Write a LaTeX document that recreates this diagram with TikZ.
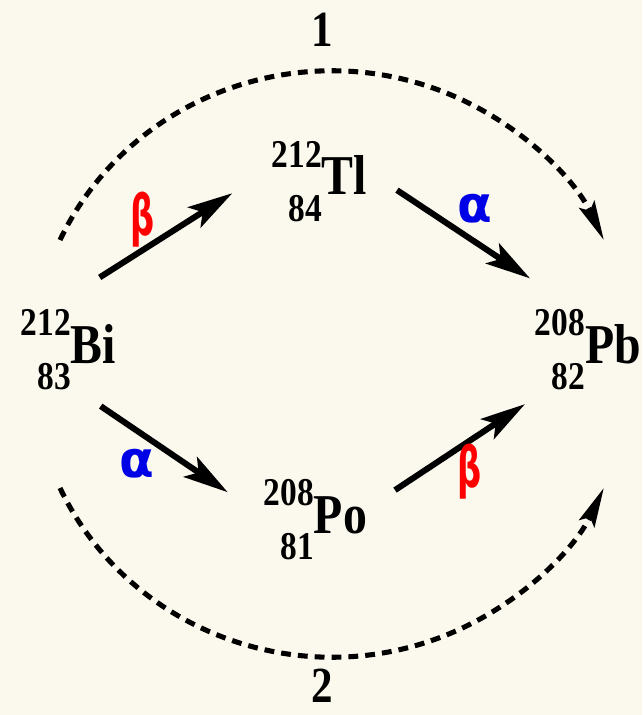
\documentclass[tikz,border=0pt]{standalone}
\usepackage{fontspec}
\setmainfont{Liberation Serif}
\newfontfamily\elfont{Liberation Serif}[FakeStretch=0.85]
\newfontfamily\alphafont{DejaVu Sans}
\newfontfamily\betafont{DejaVu Sans}[FakeStretch=0.6]
\usetikzlibrary{arrows.meta, positioning}
\definecolor{paper}{RGB}{251,249,238}
\definecolor{alphablue}{RGB}{0,0,230}
\definecolor{betared}{RGB}{255,0,0}
\newcommand{\nuc}[3]{\begin{tabular}{@{}r@{}}#1\\[8pt]#2\end{tabular}{\fontsize{40}{44}\selectfont #3}}

\begin{document}
\begin{tikzpicture}[
    nuclide/.style={inner sep=2pt, anchor=base east, font=\elfont\bfseries\fontsize{28}{30}\selectfont},
    decay/.style={line width=4.3pt, -{Stealth[length=32pt, width=17pt, inset=7pt]}},
    chainarc/.style={line width=3.6pt, dash pattern=on 7pt off 5pt, -{Stealth[length=28pt, width=12pt, inset=5pt]}},
    albl/.style={font=\alphafont\bfseries\fontsize{36}{38}\selectfont, text=alphablue},
    blbl/.style={font=\betafont\bfseries\fontsize{40}{42}\selectfont, text=betared},
    numlbl/.style={font=\elfont\bfseries\fontsize{36}{38}\selectfont}
]
    \fill[paper] (0,0) rectangle (16.05,-17.875);
    \useasboundingbox (0,0) rectangle (16.05,-17.875);

    % nuclides
    \node[nuclide] (bi) at (2.975,-9.075) {\nuc{212}{83}{Bi}};
    \node[nuclide] (tl) at (9.25,-4.875) {\nuc{212}{84}{Tl}};
    \node[nuclide] (po) at (9.25,-13.325) {\nuc{208}{81}{Po}};
    \node[nuclide] (pb) at (16.1,-9.075) {\nuc{208}{82}{Pb}};

    % decays
    \draw[decay, shorten <=1.21cm, shorten >=1.07cm] ([xshift=-0.235cm]bi.north) -- ([yshift=0.4cm]tl.west);
    \draw[decay, shorten <=0.81cm, shorten >=1.13cm] ([yshift=0.35cm]tl.east) -- ([xshift=-0.505cm]pb.north);
    \draw[decay, shorten <=0.045cm, shorten >=0.99cm] ([xshift=0.775cm]bi.south) -- ([yshift=0.245cm]po.west);
    \draw[decay, shorten <=0.75cm, shorten >=-0.045cm] ([yshift=0.44cm]po.east) -- ([xshift=-0.21cm]pb.south west);
    \node[blbl] (b1) at (3.575,-5.5) {β};
    \node[albl] (a1) at (11.875,-5.225) {α};
    \node[albl] (a2) at (3.425,-11.6) {α};
    \node[blbl] (b2) at (11.75,-11.8) {β};

    % the two branches
    \coordinate (top1) at (1.5,-6.0);
    \coordinate (bot2) at (1.5,-12.2);
    \draw[chainarc] (top1) arc[start angle=155, end angle=25, x radius=7.5, y radius=7.325];
    \draw[chainarc] (bot2) arc[start angle=205, end angle=335, x radius=7.5, y radius=7.325];
    \node[numlbl] (n1) at (8.05,-0.75) {1};
    \node[numlbl] (n2) at (8.05,-17.15) {2};
\end{tikzpicture}
\end{document}
